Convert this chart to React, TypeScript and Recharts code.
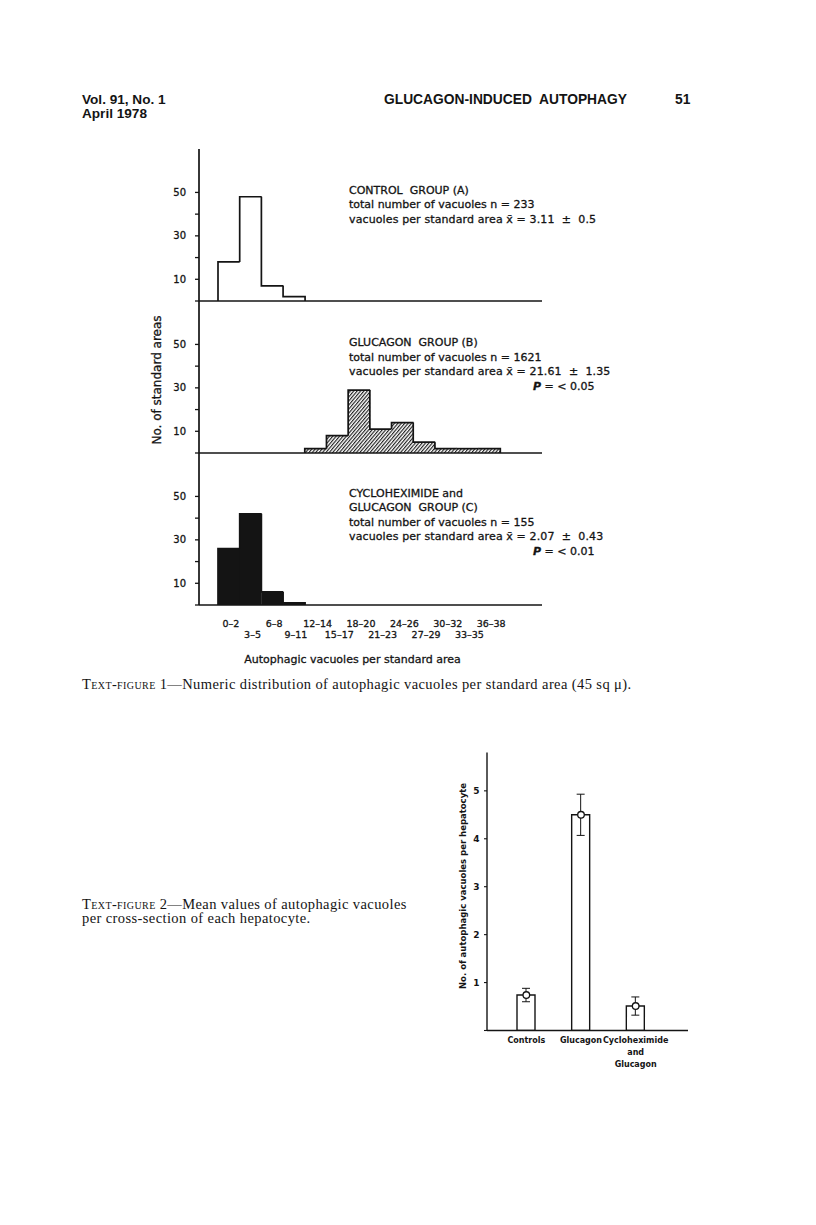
import React from 'react';
import { BarChart, Bar, XAxis, YAxis, ComposedChart, Line, ErrorBar } from 'recharts';

// ---------- Text-figure 1 data ----------
const binLabels = ['0–2', '3–5', '6–8', '9–11', '12–14', '15–17', '18–20', '21–23', '24–26', '27–29', '30–32', '33–35', '36–38'];
const controlCounts = [18, 48, 7, 2, 0, 0, 0, 0, 0, 0, 0, 0, 0];
const glucagonCounts = [0, 0, 0, 0, 2, 8, 29, 11, 14, 5, 2, 2, 2];
const cycloCounts = [26, 42, 6, 1, 0, 0, 0, 0, 0, 0, 0, 0, 0];
const countTicks = [0, 10, 20, 30, 40, 50];
const countTickLabels = [10, 30, 50];

// ---------- Text-figure 2 data ----------
const groupNames = ['Controls', 'Glucagon', 'Cycloheximide and Glucagon'];
const groupLabelLines = [['Controls'], ['Glucagon'], ['Cycloheximide', 'and', 'Glucagon']];
const meanVacuoles = [0.74, 4.5, 0.51];
const meanErrors = [0.14, 0.43, 0.19];
const meanTicks = [0, 1, 2, 3, 4, 5];

const SANS = '"DejaVu Sans", sans-serif';
const SERIF = '"Liberation Serif", "Times New Roman", serif';
const HEAD = '"Liberation Sans", Arial, sans-serif';
const INK = '#141414';

const PANEL_W = 412;
const PLOT_H = 152;

function makeStepShape(counts: number[], fill: string) {
  return (props: any) => {
    const { x, y, width, height, payload } = props;
    const index = binLabels.indexOf(payload.bin);
    const v = counts[index];
    if (!v || !height) return <g />;
    const base = y + height;
    const k = height / v;
    const prev = index > 0 ? counts[index - 1] : 0;
    const next = index < counts.length - 1 ? counts[index + 1] : 0;
    const prevY = base - prev * k;
    let d = `M${x},${prevY}L${x},${y}L${x + width},${y}`;
    if (!next) d += `L${x + width},${base}`;
    return (
      <g>
        <rect x={x} y={y} width={width} height={height} fill={fill} />
        <path d={d} fill="none" stroke={INK} strokeWidth={1.7} />
      </g>
    );
  };
}

const CountTick = (p: any) => {
  const v = p.payload.value;
  if (!countTickLabels.includes(v)) return <g />;
  return (
    <text x={p.x} y={p.y} dy={3.6} textAnchor="end" fontFamily={SANS} fontSize={10} fill={INK} stroke={INK} strokeWidth={0.3}>
      {v}
    </text>
  );
};

const BinTick = (p: any) => {
  const i = binLabels.indexOf(p.payload.value);
  const row = i % 2;
  return (
    <text x={p.x + 2} y={p.y} dy={row ? 33.3 : 21.7} textAnchor="middle" fontFamily={SANS} fontSize={9.5} fill={INK} stroke={INK} strokeWidth={0.3}>
      {p.payload.value}
    </text>
  );
};

function Panel({ counts, fill, top, bottomAxis }: { counts: number[]; fill: string; top: number; bottomAxis: boolean }) {
  const data = binLabels.map((bin, i) => ({ bin, count: counts[i] }));
  const mt = 4;
  const xh = bottomAxis ? 44 : 6;
  return (
    <div style={{ position: 'absolute', left: 140, top: top - mt }}>
      <BarChart
        width={PANEL_W}
        height={mt + PLOT_H + xh}
        data={data}
        margin={{ top: mt, right: 10, bottom: 0, left: 0 }}
        barCategoryGap={0}
        barGap={0}
      >
        <XAxis
          dataKey="bin"
          type="category"
          interval={0}
          padding={{ left: 19, right: 42 }}
          axisLine={{ stroke: INK, strokeWidth: 1.7 }}
          tickLine={false}
          tickSize={0}
          tickMargin={0}
          height={xh}
          tick={bottomAxis ? BinTick : false}
        />
        <YAxis
          type="number"
          domain={[0, 70]}
          ticks={countTicks}
          interval={0}
          allowDataOverflow
          width={59}
          axisLine={{ stroke: INK, strokeWidth: 1.7 }}
          tickLine={{ stroke: INK, strokeWidth: 1.3 }}
          tickSize={4}
          tickMargin={9}
          tick={CountTick}
        />
        <Bar dataKey="count" isAnimationActive={false} shape={makeStepShape(counts, fill)} />
      </BarChart>
    </div>
  );
}

const MeanTick = (p: any) => {
  const v = p.payload.value;
  if (v === 0) return <g />;
  return (
    <text x={p.x} y={p.y} dy={3.2} textAnchor="end" fontFamily={SANS} fontWeight="bold" fontSize={9} fill={INK}>
      {v}
    </text>
  );
};

const GroupTick = (p: any) => {
  const i = groupNames.indexOf(p.payload.value);
  const lines = groupLabelLines[i] || [p.payload.value];
  return (
    <g>
      {lines.map((t, j) => (
        <text key={j} x={p.x} y={p.y} dy={12 + j * 12} textAnchor="middle" fontFamily={SANS} fontWeight="bold" fontSize={8} fill={INK}>
          {t}
        </text>
      ))}
    </g>
  );
};

function MeanChart() {
  const data = groupNames.map((name, i) => ({ name, mean: meanVacuoles[i], err: meanErrors[i] }));
  return (
    <div style={{ position: 'absolute', left: 400, top: 740 }}>
      <ComposedChart width={308} height={341} data={data} margin={{ top: 12.5, right: 20, bottom: 0, left: 0 }}>
        <XAxis
          dataKey="name"
          type="category"
          interval={0}
          padding={{ left: 12, right: 25 }}
          axisLine={{ stroke: INK, strokeWidth: 1.4 }}
          tickLine={false}
          tickSize={0}
          tickMargin={0}
          height={50.5}
          tick={GroupTick}
        />
        <YAxis
          type="number"
          domain={[0, 5.8]}
          ticks={meanTicks}
          interval={0}
          allowDataOverflow
          width={87}
          axisLine={{ stroke: INK, strokeWidth: 1.4 }}
          tickLine={{ stroke: INK, strokeWidth: 1.1 }}
          tickSize={3}
          tickMargin={4.5}
          tick={MeanTick}
        />
        <Bar dataKey="mean" barSize={18} fill="#fff" stroke={INK} strokeWidth={1.4} isAnimationActive={false}>
          <ErrorBar dataKey="err" width={4} stroke={INK} strokeWidth={1} direction="y" />
        </Bar>
        <Line
          dataKey="mean"
          stroke="none"
          isAnimationActive={false}
          activeDot={false}
          dot={{ r: 3.3, fill: '#fff', stroke: INK, strokeWidth: 1.3 }}
        />
      </ComposedChart>
    </div>
  );
}

function PageText() {
  const panelText = { fontFamily: SANS, fontSize: 11, fill: INK, stroke: INK, strokeWidth: 0.3 } as const;
  const line3 = { ...panelText, letterSpacing: 0.12, style: { whiteSpace: 'pre' as const } };
  const cap = { fontFamily: SERIF, fontSize: 14.5, letterSpacing: 0.4, fill: INK } as const;
  return (
    <svg width={816} height={1225} style={{ position: 'absolute', left: 0, top: 0 }}>
      <defs>
        <pattern id="hatchB" patternUnits="userSpaceOnUse" width={2.6} height={6} patternTransform="rotate(40)">
          <rect x={0} y={0} width={2.6} height={6} fill="#fff" />
          <line x1={0.6} y1={0} x2={0.6} y2={6} stroke={INK} strokeWidth={1.1} />
        </pattern>
      </defs>
      {/* running head */}
      <text x={82} y={103.5} fontFamily={HEAD} fontWeight="bold" fontSize={13.6} fill={INK}>Vol. 91, No. 1</text>
      <text x={82} y={118} fontFamily={HEAD} fontWeight="bold" fontSize={13.6} fill={INK}>April 1978</text>
      <text x={384} y={103.5} fontFamily={HEAD} fontWeight="bold" fontSize={13.8} fill={INK} style={{ whiteSpace: 'pre' }}>GLUCAGON-INDUCED  AUTOPHAGY</text>
      <text x={675} y={103.5} fontFamily={HEAD} fontWeight="bold" fontSize={13.8} fill={INK}>51</text>

      {/* Figure 1 y label */}
      <text transform="translate(161,380) rotate(-90)" textAnchor="middle" fontFamily={SANS} fontSize={12} fill={INK} stroke={INK} strokeWidth={0.3}>No. of standard areas</text>

      {/* panel A */}
      <text x={349} y={193.5} {...panelText} style={{ whiteSpace: 'pre' }}>CONTROL  GROUP (A)</text>
      <text x={349} y={208} {...panelText}>total number of vacuoles n = 233</text>
      <text x={349} y={222.5} {...line3}>vacuoles per standard area x̄ = 3.11  ±  0.5</text>

      {/* panel B */}
      <text x={349} y={346} {...panelText} style={{ whiteSpace: 'pre' }}>GLUCAGON  GROUP (B)</text>
      <text x={349} y={360.5} {...panelText}>total number of vacuoles n = 1621</text>
      <text x={349} y={375} {...line3}>vacuoles per standard area x̄ = 21.61  ±  1.35</text>
      <text x={533} y={389.5} {...panelText}><tspan fontStyle="italic" fontWeight="bold">P</tspan> = &lt; 0.05</text>

      {/* panel C */}
      <text x={349} y={496.5} {...panelText}>CYCLOHEXIMIDE and</text>
      <text x={349} y={511} {...panelText} style={{ whiteSpace: 'pre' }}>GLUCAGON  GROUP (C)</text>
      <text x={349} y={525.5} {...panelText}>total number of vacuoles n = 155</text>
      <text x={349} y={540} {...line3}>vacuoles per standard area x̄ = 2.07  ±  0.43</text>
      <text x={533} y={554.5} {...panelText}><tspan fontStyle="italic" fontWeight="bold">P</tspan> = &lt; 0.01</text>

      {/* x title */}
      <text x={352.5} y={663} textAnchor="middle" fontFamily={SANS} fontSize={11} fill={INK} stroke={INK} strokeWidth={0.3}>Autophagic vacuoles per standard area</text>

      {/* caption 1 */}
      <text x={82} y={689} {...cap}>
        <tspan style={{ fontVariant: 'small-caps' }}>Text-figure</tspan> 1—Numeric distribution of autophagic vacuoles per standard area (45 sq μ).
      </text>

      {/* caption 2 */}
      <text x={82} y={908.5} {...cap}>
        <tspan style={{ fontVariant: 'small-caps' }}>Text-figure</tspan> 2—Mean values of autophagic vacuoles
      </text>
      <text x={82} y={923} {...cap}>per cross-section of each hepatocyte.</text>

      {/* Figure 2 y label */}
      <text transform="translate(466,886) rotate(-90)" textAnchor="middle" fontFamily={SANS} fontWeight="bold" fontSize={8.5} fill={INK}>No. of autophagic vacuoles per hepatocyte</text>
    </svg>
  );
}

export default function App() {
  return (
    <div style={{ position: 'absolute', left: 0, top: 0, width: 816, height: 1225, background: '#fff', overflow: 'hidden' }}>
      <PageText />
      <Panel counts={controlCounts} fill="#fff" top={148.5} bottomAxis={false} />
      <Panel counts={glucagonCounts} fill="url(#hatchB)" top={301} bottomAxis={false} />
      <Panel counts={cycloCounts} fill={INK} top={452.5} bottomAxis={true} />
      <MeanChart />
    </div>
  );
}
